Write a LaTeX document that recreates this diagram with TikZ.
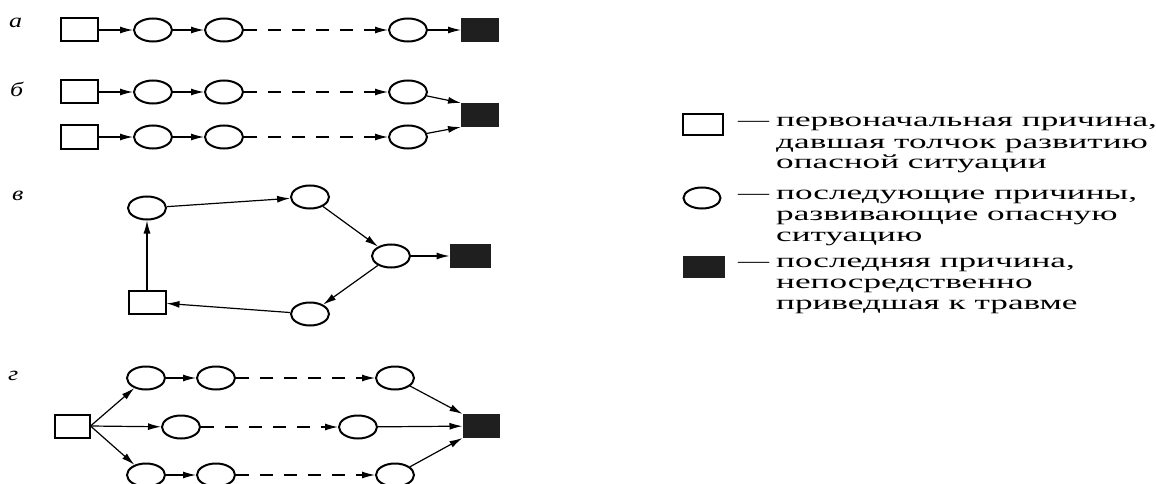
\documentclass[tikz,border=0pt]{standalone}
\usepackage{graphicx}
\usepackage{fontspec}
\setmainfont{Liberation Serif}
\usetikzlibrary{shapes.geometric,arrows.meta}
\newcommand{\wide}[2]{\scalebox{#1}[1]{#2}}
\tikzset{
 circ/.style={ellipse,draw,line width=2pt,minimum width=38pt,minimum height=23pt,inner sep=0pt},
 sq/.style={rectangle,draw,line width=2pt,minimum width=37pt,minimum height=23pt,inner sep=0pt},
 blk/.style={rectangle,fill=black!88,draw=black!88,line width=1pt,minimum width=37pt,minimum height=23pt,inner sep=0pt},
 arr/.style={-{Latex[length=13pt,width=7pt]},line width=1.2pt},
 darr/.style={arr,dash pattern=on 13pt off 11pt},
 lab/.style={anchor=base west,inner sep=0pt,font=\fontsize{20}{21}\selectfont\itshape},
 leg/.style={anchor=base west,inner sep=0pt,font=\fontsize{20}{21}\selectfont},
}
\begin{document}
\begin{tikzpicture}[x=1pt,y=-1pt]
\useasboundingbox (0,0) rectangle (1156,484);
% labels
\node[lab] (la) at (9,28) {\wide{1.3}{а}};
\node[lab] (lb) at (10,97) {\wide{1.3}{б}};
\node[lab] (lv) at (12,200) {\wide{1.3}{в}};
\node[lab] (lg) at (8,380) {\wide{1.3}{г}};
% row a
\node[sq] (a0) at (79.5,30) {};
\node[circ] (a1) at (153,30) {};
\node[circ] (a2) at (224,30) {};
\node[circ] (a3) at (408,30) {};
\node[blk] (a4) at (480,30) {};
\draw[arr] (a0) -- (a1);
\draw[arr] (a1) -- (a2);
\draw[darr] (a2) -- (a3);
\draw[arr] (a3) -- (a4);
% row b
\node[sq] (b0) at (79.5,92) {};
\node[circ] (b1) at (153,92) {};
\node[circ] (b2) at (224,92) {};
\node[circ] (b3) at (408,92) {};
\node[sq] (c0) at (79.5,137) {};
\node[circ] (c1) at (153,137) {};
\node[circ] (c2) at (224,137) {};
\node[circ] (c3) at (408,137) {};
\node[blk] (b4) at (480,115) {};
\draw[arr] (b0) -- (b1);
\draw[arr] (b1) -- (b2);
\draw[darr] (b2) -- (b3);
\draw[arr] (b3) -- (b4.north west);
\draw[arr] (c0) -- (c1);
\draw[arr] (c1) -- (c2);
\draw[darr] (c2) -- (c3);
\draw[arr] (c3) -- (b4.south west);
% row v
\node[sq] (v0) at (147,302) {};
\node[circ] (v1) at (147,208) {};
\node[circ] (v2) at (310,197) {};
\node[circ] (v3) at (391,256) {};
\node[blk,minimum width=40pt] (v4) at (470,256) {};
\node[circ] (v5) at (310,314) {};
\draw[arr] (v0) -- (v1);
\draw[arr] (v1) -- (v2);
\draw[arr] (v2) -- (v3);
\draw[arr] (v3) -- (v4);
\draw[arr] (v3) -- (v5);
\draw[arr] (v5) -- (v0);
% row g
\node[sq,minimum width=35pt] (g0) at (72,426) {};
\node[circ] (g1) at (146,378) {};
\node[circ] (g2) at (216,378) {};
\node[circ] (g3) at (395,378) {};
\node[circ] (h1) at (181,427) {};
\node[circ] (h2) at (358,427) {};
\node[circ] (k1) at (146,475) {};
\node[circ] (k2) at (216,475) {};
\node[circ] (k3) at (395,475) {};
\node[blk,minimum width=36pt] (g4) at (481,426) {};
\draw[arr] (g0.east) -- (g1);
\draw[arr] (g0.east) -- (h1);
\draw[arr] (g0.east) -- (k1);
\draw[arr] (g1) -- (g2);
\draw[darr] (g2) -- (g3);
\draw[arr] (g3) -- (g4.north west);
\draw[darr] (h1) -- (h2);
\draw[arr] (h2) -- (g4);
\draw[arr] (k1) -- (k2);
\draw[darr] (k2) -- (k3);
\draw[arr] (k3) -- (g4.south west);
% legend
\node[sq,minimum width=40pt,minimum height=21pt] (l1) at (703,125) {};
\node[circ,minimum width=37pt,minimum height=21pt] (l2) at (702,198) {};
\node[blk,minimum width=41pt,minimum height=21pt] (l3) at (704,267) {};
\node[leg] (d1) at (738,127) {\wide{1.55}{—}};
\node[leg] (d2) at (738,199) {\wide{1.55}{—}};
\node[leg] (d3) at (738,267) {\wide{1.55}{—}};
\node[leg] (t1) at (776,127) {\wide{1.76}{\begin{tabular}[t]{@{}l@{}}первоначальная причина,\\давшая толчок развитию\\опасной ситуации\end{tabular}}};
\node[leg] (t2) at (776,199) {\wide{1.76}{\begin{tabular}[t]{@{}l@{}}последующие причины,\\развивающие опасную\\ситуацию\end{tabular}}};
\node[leg] (t3) at (776,267) {\wide{1.76}{\begin{tabular}[t]{@{}l@{}}последняя причина,\\непосредственно\\приведшая к травме\end{tabular}}};
\end{tikzpicture}
\end{document}
